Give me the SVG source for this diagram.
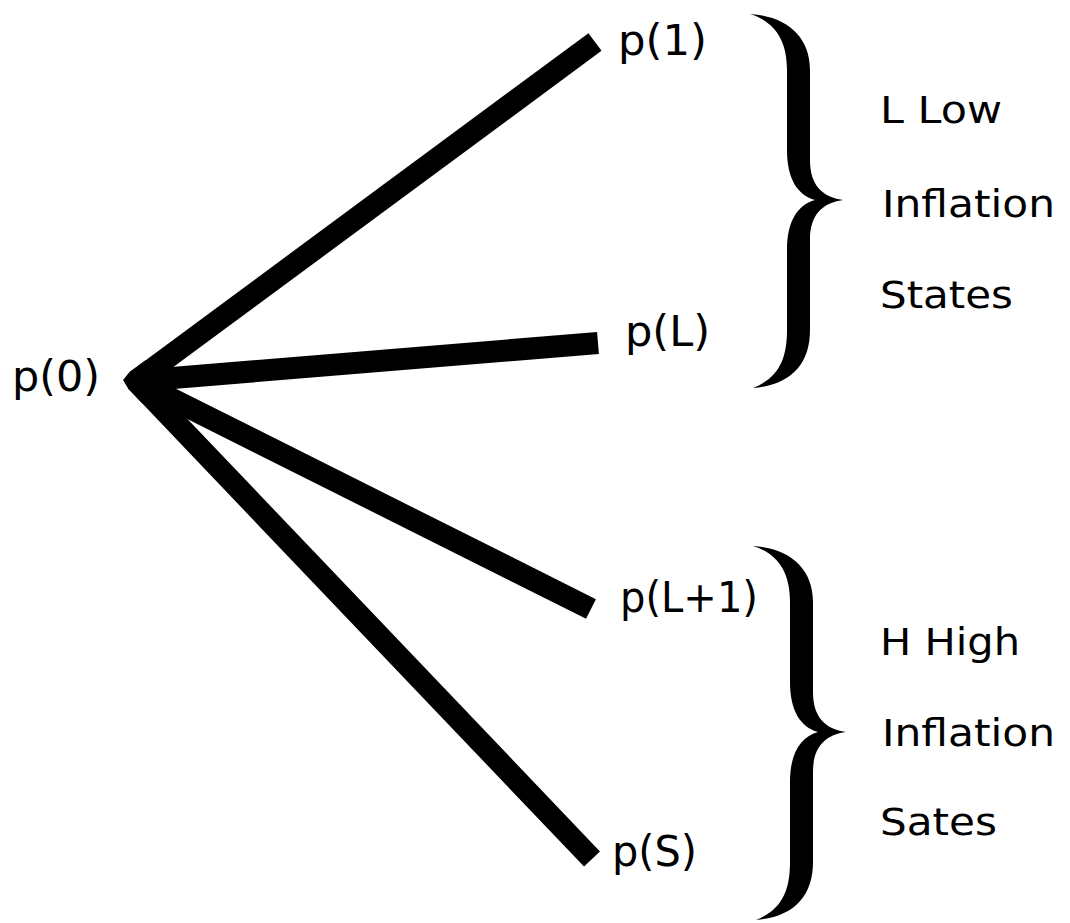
<svg xmlns="http://www.w3.org/2000/svg" xmlns:xlink="http://www.w3.org/1999/xlink" width="1070" height="923" viewBox="0 0 1070 923">
<style>
.lbl{font-family:"DejaVu Sans","Liberation Sans",sans-serif;font-size:42px;fill:#000}
.grp{font-family:"DejaVu Sans","Liberation Sans",sans-serif;font-size:37px;fill:#000}
.edge{stroke:#000;stroke-width:22;stroke-linecap:butt;fill:none}
</style>
<defs>
<path id="brace" d="M750,14 C785,16 810,35 810,70 L810,160 C810,185 822,197 843,200 C822,203 810,215 810,240 L810,330 C810,365 790,385 753,388 C778,378 787,360 787,330 L787,250 C787,222 797,205 815,200 C797,195 787,178 787,150 L787,70 C787,40 775,22 750,14 Z" fill="#000"/>
</defs>
<rect width="1070" height="923" fill="#fff"/>
<g id="connectors">
<line class="edge" x1="136" y1="381" x2="595" y2="42"/>
<line class="edge" x1="136" y1="381" x2="598" y2="343"/>
<line class="edge" x1="136" y1="381" x2="591" y2="609"/>
<line class="edge" x1="136" y1="381" x2="592" y2="859"/>
<polygon points="123,380 129.5,372.1 145.6,360.3 160,381 141.9,403 128.1,388.6" fill="#000"/>
</g>
<g id="node-p0"><text class="lbl" x="12" y="391" textLength="88" lengthAdjust="spacingAndGlyphs">p(0)</text></g>
<g id="node-p1"><text class="lbl" x="618" y="55" textLength="89" lengthAdjust="spacingAndGlyphs">p(1)</text></g>
<g id="node-pL"><text class="lbl" x="625" y="346" textLength="85" lengthAdjust="spacingAndGlyphs">p(L)</text></g>
<g id="node-pL1"><text class="lbl" x="620" y="612" textLength="138" lengthAdjust="spacingAndGlyphs">p(L+1)</text></g>
<g id="node-pS"><text class="lbl" x="612" y="866" textLength="85" lengthAdjust="spacingAndGlyphs">p(S)</text></g>
<g id="group-low">
<use xlink:href="#brace" href="#brace"/>
<text class="grp" x="880" y="123" textLength="122" lengthAdjust="spacingAndGlyphs">L Low</text>
<text class="grp" x="882" y="217" textLength="173" lengthAdjust="spacingAndGlyphs">Inflation</text>
<text class="grp" x="880" y="308" textLength="133" lengthAdjust="spacingAndGlyphs">States</text>
</g>
<g id="group-high">
<use xlink:href="#brace" href="#brace" transform="translate(3,532)"/>
<text class="grp" x="880" y="655" textLength="140" lengthAdjust="spacingAndGlyphs">H High</text>
<text class="grp" x="882" y="746" textLength="173" lengthAdjust="spacingAndGlyphs">Inflation</text>
<text class="grp" x="880" y="835" textLength="117" lengthAdjust="spacingAndGlyphs">Sates</text>
</g>
</svg>
